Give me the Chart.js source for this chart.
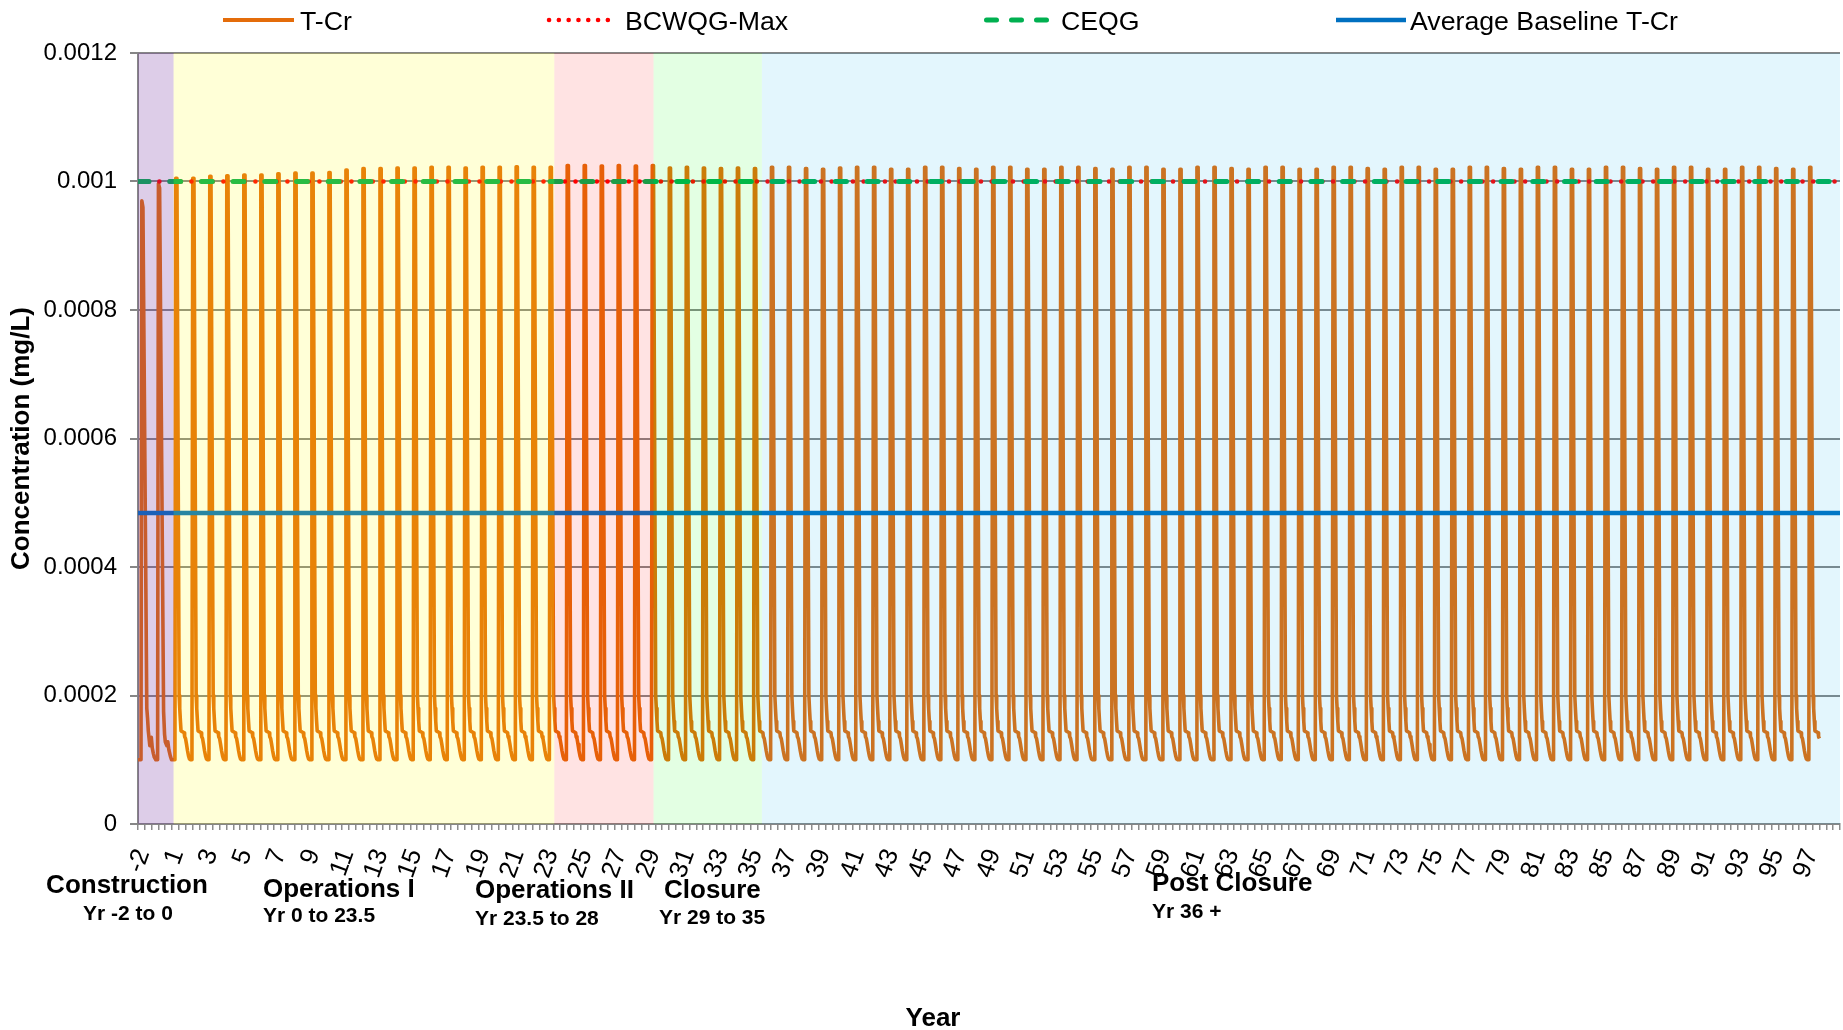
<!DOCTYPE html>
<html>
<head>
<meta charset="utf-8">
<script src="https://cdn.jsdelivr.net/npm/chart.js"></script>
<style>
html,body{margin:0;padding:0;background:#ffffff;}
#wrap{width:1843px;height:1030px;position:relative;}
</style>
</head>
<body>
<div id="wrap"><canvas id="c" width="1843" height="1030"></canvas></div>
<script>
// ---------------- DATA ----------------
const xTickLabels = ['-2','1','3','5','7','9','11','13','15','17','19','21','23','25','27','29','31','33','35','37','39','41','43','45','47','49','51','53','55','57','59','61','63','65','67','69','71','73','75','77','79','81','83','85','87','89','91','93','95','97'];
const yTickLabels = ['0','0.0002','0.0004','0.0006','0.0008','0.001','0.0012'];

// Construction period (two explicit cycles), x in axis years
const constructionYears = [-2, -1.824, -1.775, -1.71, -1.483, -1.44, -1.395, -1.307, -1.26, -1.219, -1.16, -1.1, -1.042, -0.954, -0.848, -0.8, -0.73, -0.496, -0.44, -0.396, -0.308, -0.249, -0.19, -0.102, -0.03, 0.0];
const constructionTCr = [0.0001, 0.0001, 0.00097, 0.00096, 0.00018, 0.000165, 0.000145, 0.000122, 0.000128, 0.000135, 0.000118, 0.00011, 0.000104, 0.0001, 0.0001, 0.000997, 0.00099, 0.000175, 0.00014, 0.000128, 0.000122, 0.000128, 0.000116, 0.000106, 0.0001, 0.0001];

// Annual cycles after construction
const cycleYears = [0,1,2,3,4,5,6,7,8,9,10,11,12,13,14,15,16,17,18,19,20,21,22,23,24,25,26,27,28,29,30,31,32,33,34,35,36,37,38,39,40,41,42,43,44,45,46,47,48,49,50,51,52,53,54,55,56,57,58,59,60,61,62,63,64,65,66,67,68,69,70,71,72,73,74,75,76,77,78,79,80,81,82,83,84,85,86,87,88,89,90,91,92,93,94,95,96];
const cyclePeaks = [
  0.001005,0.001005,0.001008,0.001009,0.00101,0.00101,0.001012,0.001013,0.001013,0.001014,0.001018,0.00102,0.00102,
  0.001021,0.001021,0.001022,0.001022,0.001021,0.001022,0.001022,0.001023,0.001022,0.001022,
  0.001025,0.001025,0.001024,0.001025,0.001024,0.001025,
  0.001021,0.001022,0.001021,0.00102,0.001021,0.00102,
  0.001022,0.001022,0.00102,0.001019,0.001021,0.001022,0.001022,0.001019,0.001019,0.001022,
  0.001022,0.00102,0.001019,0.001022,0.001022,0.001019,0.001019,0.001022,0.001022,0.00102,
  0.001019,0.001022,0.001022,0.001019,0.001019,0.001022,0.001022,0.00102,0.001019,0.001022,
  0.001022,0.001019,0.001019,0.001022,0.001022,0.00102,0.001019,0.001022,0.001022,0.001019,
  0.001019,0.001022,0.001022,0.00102,0.001019,0.001022,0.001022,0.001019,0.001019,0.001022,
  0.001022,0.00102,0.001019,0.001022,0.001022,0.001019,0.001019,0.001022,0.001022,0.00102,
  0.001019,0.001022
];
// Shape of one annual cycle: time after the cycle year, and concentration ('P' = that year's peak)
const cycleOffsets = [0.17, 0.217, 0.288, 0.417, 0.452, 0.493, 0.528, 0.716, 0.74, 0.793, 0.852, 0.91, 0.969, 1.028, 1.087];
const cycleShape   = [0.0001, 'P', 'P', 0.0002, 0.00018, 0.00016, 0.000145, 0.000142, 0.000136, 0.000133, 0.000124, 0.000114, 0.000106, 0.000101, 0.0001];
const tCrEndYear = 96.8;

// Guideline series
const lineYears   = [-2, 98];
const bcwqgMax    = [0.001, 0.001];
const ceqg        = [0.001, 0.001];
const avgBaseline = [0.000484, 0.000484];

// Project phases
const phaseNames  = ['Construction', 'Operations I', 'Operations II', 'Closure', 'Post Closure'];
const phaseRanges = ['Yr -2 to 0', 'Yr 0 to 23.5', 'Yr 23.5 to 28', 'Yr 29 to 35', 'Yr 36 +'];
const phaseBounds = [-2, 0.09, 22.46, 28.29, 34.66, 98];

// ---------------- BUILD SERIES ----------------
const tCr = [];
constructionYears.forEach((x, i) => tCr.push({x: x, y: constructionTCr[i]}));
cycleYears.forEach((yr, i) => {
  cycleOffsets.forEach((off, j) => {
    const x = yr + off;
    if (x > tCrEndYear) return;
    const v = cycleShape[j] === 'P' ? cyclePeaks[i] : cycleShape[j];
    tCr.push({x: x, y: v});
  });
});
const pts = (vals) => lineYears.map((x, i) => ({x: x, y: vals[i]}));

// ---------------- STYLE ----------------
const FONT = "'Liberation Sans', Arial, Helvetica, sans-serif";
const GRID = '#868686';
const phaseFills = ['rgba(112,48,160,0.24)', 'rgba(255,255,0,0.155)', 'rgba(255,0,0,0.11)', 'rgba(0,255,0,0.11)', 'rgba(0,176,240,0.11)'];
const phaseText = [
  {x1: 127, a1: 'center', y1: 893, x2: 128, a2: 'center', y2: 919.5},
  {x1: 263, a1: 'left', y1: 897, x2: 263, a2: 'left', y2: 922},
  {x1: 475, a1: 'left', y1: 898, x2: 475, a2: 'left', y2: 924.5},
  {x1: 664, a1: 'left', y1: 898, x2: 659, a2: 'left', y2: 923.5},
  {x1: 1152, a1: 'left', y1: 891, x2: 1152, a2: 'left', y2: 917.5}
];
const legendLayout = [
  {ds: 0, x0: 223, x1: 294, tx: 300, dash: [], cap: 'butt', w: 4},
  {ds: 2, x0: 549, x1: 617, tx: 625, dash: [0.1, 9.7], cap: 'round', w: 4.5},
  {ds: 3, x0: 986.5, x1: 1052, tx: 1061, dash: [10, 15], cap: 'round', w: 5},
  {ds: 1, x0: 1336, x1: 1406, tx: 1410, dash: [], cap: 'butt', w: 4.5}
];

const decorPlugin = {
  id: 'decor',
  afterDatasetsDraw(chart) {
    const {ctx, chartArea: a, scales: {x}} = chart;
    ctx.save();
    for (let i = 0; i < phaseNames.length; i++) {
      const x0 = x.getPixelForValue(phaseBounds[i]);
      const x1 = x.getPixelForValue(phaseBounds[i + 1]);
      ctx.fillStyle = phaseFills[i];
      ctx.fillRect(x0, a.top, x1 - x0, a.bottom - a.top);
    }
    ctx.restore();
  },
  afterDraw(chart) {
    const ctx = chart.ctx;
    ctx.save();
    // legend
    legendLayout.forEach(L => {
      const ds = chart.data.datasets[L.ds];
      ctx.beginPath();
      ctx.setLineDash(L.dash);
      ctx.lineCap = L.cap;
      ctx.lineWidth = L.w;
      ctx.strokeStyle = ds.borderColor;
      ctx.moveTo(L.x0, 20);
      ctx.lineTo(L.x1, 20);
      ctx.stroke();
      ctx.setLineDash([]);
      ctx.fillStyle = '#000';
      ctx.font = '26.7px ' + FONT;
      ctx.textAlign = 'left';
      ctx.textBaseline = 'alphabetic';
      ctx.fillText(ds.label, L.tx, 29.5);
    });
    // phase labels
    ctx.fillStyle = '#000';
    ctx.textBaseline = 'alphabetic';
    phaseNames.forEach((n, i) => {
      const p = phaseText[i];
      ctx.font = 'bold 26px ' + FONT;
      ctx.textAlign = p.a1;
      ctx.fillText(n, p.x1, p.y1);
      ctx.font = 'bold 21px ' + FONT;
      ctx.textAlign = p.a2;
      ctx.fillText(phaseRanges[i], p.x2, p.y2);
    });
    // x axis title
    ctx.font = 'bold 26px ' + FONT;
    ctx.textAlign = 'center';
    ctx.fillText('Year', 933, 1025.5);
    ctx.restore();
  }
};

Chart.defaults.color = '#000';
Chart.defaults.font.family = FONT;

new Chart(document.getElementById('c'), {
  type: 'line',
  data: {
    datasets: [
      {label: 'T-Cr', data: tCr, borderColor: '#E46C0A', borderWidth: 3.6, pointRadius: 0, tension: 0, borderJoinStyle: 'round', order: 4},
      {label: 'Average Baseline T-Cr', data: pts(avgBaseline), borderColor: '#0070C0', borderWidth: 4.5, pointRadius: 0, order: 3},
      {label: 'BCWQG-Max', data: pts(bcwqgMax), borderColor: '#FF0000', borderWidth: 4.5, borderDash: [0.1, 10.57], borderCapStyle: 'round', pointRadius: 0, order: 2},
      {label: 'CEQG', data: pts(ceqg), borderColor: '#00B050', borderWidth: 5, borderDash: [11, 20.7], borderCapStyle: 'round', pointRadius: 0, order: 1}
    ]
  },
  options: {
    responsive: false,
    animation: false,
    devicePixelRatio: 1,
    events: [],
    layout: {padding: {top: 53, right: 3, bottom: 0, left: 0}},
    plugins: {legend: {display: false}, tooltip: {enabled: false}, title: {display: false}},
    scales: {
      x: {
        type: 'linear',
        min: -2, max: 98,
        afterFit: (s) => { s.height = 206; s.paddingLeft = 0; s.paddingRight = 0; },
        afterBuildTicks: (s) => {
          const t = [];
          for (let j = 0; j <= 250; j++) t.push({value: -2 + j * 0.4});
          s.ticks = t;
        },
        ticks: {
          autoSkip: false, maxRotation: 70, minRotation: 70, padding: 15, labelOffset: 5,
          font: {size: 25.5, family: FONT}, color: '#000',
          callback: (v, i) => (i % 5 === 0 && xTickLabels[i / 5] !== undefined) ? xTickLabels[i / 5] : ''
        },
        grid: {drawOnChartArea: false, drawTicks: true, tickLength: 6, color: '#8c8c8c', lineWidth: 1.5},
        border: {display: true, color: GRID, width: 2}
      },
      y: {
        min: 0, max: 0.0012,
        afterFit: (s) => { s.width = 138; },
        ticks: {
          stepSize: 0.0002, padding: 13,
          font: {size: 24, family: FONT}, color: '#000',
          callback: (v, i) => yTickLabels[i]
        },
        grid: {color: GRID, lineWidth: 2, tickLength: 8, drawTicks: true},
        border: {display: true, color: GRID, width: 2},
        title: {display: true, text: 'Concentration (mg/L)', color: '#000', font: {size: 26, weight: 'bold', family: FONT}, padding: {top: 6, bottom: 0}}
      }
    }
  },
  plugins: [decorPlugin]
});
</script>
</body>
</html>
